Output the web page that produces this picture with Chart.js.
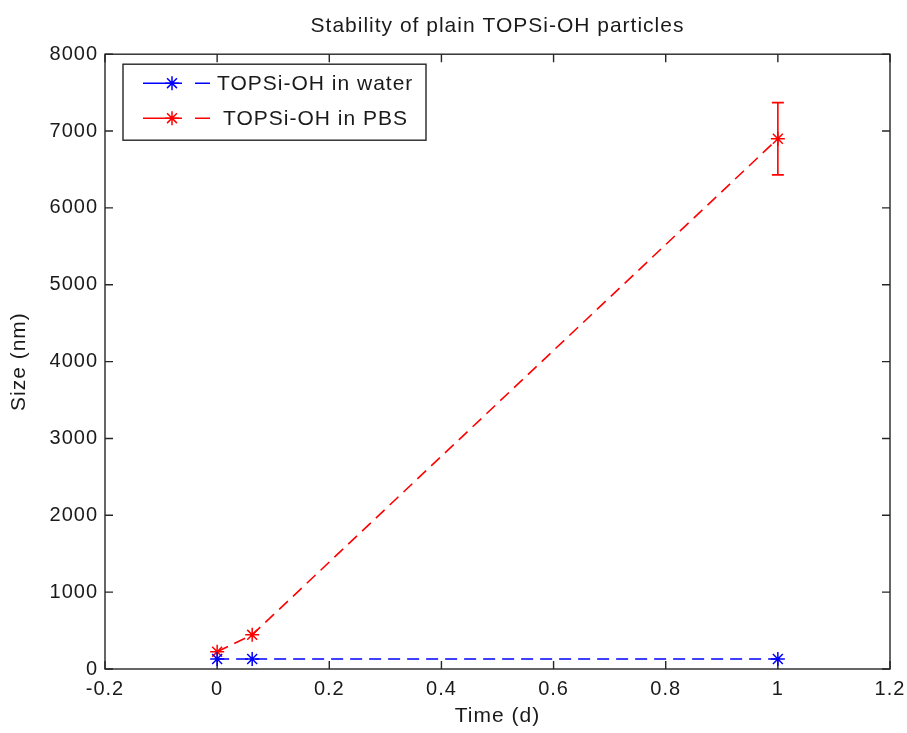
<!DOCTYPE html>
<html><head><meta charset="utf-8">
<script src="https://cdn.jsdelivr.net/npm/chart.js@4/dist/chart.umd.min.js"></script>
<style>html,body{margin:0;padding:0;background:#fff;overflow:hidden;} #wrap{width:907px;height:733px;}</style>
</head><body><div id="wrap"><canvas id="c" width="907" height="733"></canvas></div>
<script>
const chartTitle = 'Stability of plain TOPSi-OH particles';
const xAxisTitle = 'Time (d)';
const yAxisTitle = 'Size (nm)';
const seriesNames = ['TOPSi-OH in water', 'TOPSi-OH in PBS'];
const timeDays = [0, 0.0625, 1];
const waterSize = [130, 130, 130];
const pbsSize = [225, 445, 6900];
const pbsError = [0, 0, 470];
const xTicks = [-0.2, 0, 0.2, 0.4, 0.6, 0.8, 1, 1.2];
const xTickLabels = ['-0.2', '0', '0.2', '0.4', '0.6', '0.8', '1', '1.2'];
const yTicks = [0, 1000, 2000, 3000, 4000, 5000, 6000, 7000, 8000];
const yTickLabels = ['0', '1000', '2000', '3000', '4000', '5000', '6000', '7000', '8000'];

const FONT = '"Liberation Sans", Arial, Helvetica, sans-serif';
const TEXT = '#1a1a1a';
const AXIS = '#262626';
const BLUE = '#0000ff';
const RED = '#ff0000';

function setSpacing(chart) {
  if ('letterSpacing' in chart.ctx) chart.ctx.letterSpacing = '1px';
}

const spacingPlugin = {
  id: 'spacing',
  beforeLayout(chart) { setSpacing(chart); },
  beforeDraw(chart) { setSpacing(chart); }
};

const axesBoxPlugin = {
  id: 'axesBox',
  beforeDatasetsDraw(chart) {
    const {ctx, chartArea: a, scales: {x, y}} = chart;
    ctx.save();
    ctx.strokeStyle = AXIS;
    ctx.lineWidth = 1.4;
    ctx.setLineDash([]);
    ctx.strokeRect(a.left, a.top, a.right - a.left, a.bottom - a.top);
    const L = 8;
    ctx.beginPath();
    xTicks.forEach(v => {
      const px = x.getPixelForValue(v);
      ctx.moveTo(px, a.bottom); ctx.lineTo(px, a.bottom - L);
      ctx.moveTo(px, a.top); ctx.lineTo(px, a.top + L);
    });
    yTicks.forEach(v => {
      const py = y.getPixelForValue(v);
      ctx.moveTo(a.left, py); ctx.lineTo(a.left + L, py);
      ctx.moveTo(a.right, py); ctx.lineTo(a.right - L, py);
    });
    ctx.stroke();
    ctx.restore();
  }
};

const errorBarPlugin = {
  id: 'errorBars',
  afterDatasetsDraw(chart) {
    const {ctx, scales: {x, y}} = chart;
    ctx.save();
    ctx.strokeStyle = RED;
    ctx.lineWidth = 1.6;
    ctx.setLineDash([]);
    ctx.beginPath();
    timeDays.forEach((t, i) => {
      const e = pbsError[i];
      if (!e) return;
      const px = x.getPixelForValue(t);
      const yTop = y.getPixelForValue(pbsSize[i] + e);
      const yBot = y.getPixelForValue(pbsSize[i] - e);
      ctx.moveTo(px, yTop); ctx.lineTo(px, yBot);
      ctx.moveTo(px - 6, yTop); ctx.lineTo(px + 6, yTop);
      ctx.moveTo(px - 6, yBot); ctx.lineTo(px + 6, yBot);
    });
    ctx.stroke();
    ctx.restore();
  }
};

function drawStar(ctx, cx, cy, r, color) {
  ctx.save();
  ctx.strokeStyle = color;
  ctx.lineWidth = 1.5;
  ctx.setLineDash([]);
  ctx.beginPath();
  ctx.moveTo(cx - r, cy); ctx.lineTo(cx + r, cy);
  ctx.moveTo(cx, cy - r); ctx.lineTo(cx, cy + r);
  const d = r * Math.SQRT1_2;
  ctx.moveTo(cx - d, cy - d); ctx.lineTo(cx + d, cy + d);
  ctx.moveTo(cx - d, cy + d); ctx.lineTo(cx + d, cy - d);
  ctx.stroke();
  ctx.restore();
}

const legendPlugin = {
  id: 'boxLegend',
  afterDraw(chart) {
    const {ctx, chartArea: a} = chart;
    const bx = a.left + 18, by = a.top + 10, bw = 303, bh = 76;
    ctx.save();
    setSpacing(chart);
    ctx.fillStyle = '#ffffff';
    ctx.fillRect(bx, by, bw, bh);
    ctx.strokeStyle = AXIS;
    ctx.lineWidth = 1.4;
    ctx.strokeRect(bx, by, bw, bh);
    const rows = [
      {name: seriesNames[0], color: BLUE, y: by + 19, tx: bx + 94},
      {name: seriesNames[1], color: RED, y: by + 54, tx: bx + 100}
    ];
    rows.forEach(r => {
      ctx.strokeStyle = r.color;
      ctx.lineWidth = 1.6;
      ctx.beginPath();
      ctx.moveTo(bx + 20, r.y); ctx.lineTo(bx + 59, r.y);
      ctx.moveTo(bx + 72, r.y); ctx.lineTo(bx + 87, r.y);
      ctx.stroke();
      drawStar(ctx, bx + 49, r.y, 7, r.color);
      ctx.fillStyle = TEXT;
      ctx.font = '21px ' + FONT;
      ctx.textBaseline = 'middle';
      ctx.textAlign = 'left';
      ctx.fillText(r.name, r.tx, r.y + 1);
    });
    ctx.restore();
  }
};

const ctx = document.getElementById('c').getContext('2d');
new Chart(ctx, {
  type: 'line',
  data: {
    datasets: [
      {
        label: seriesNames[0],
        data: timeDays.map((t, i) => ({x: t, y: waterSize[i]})),
        borderColor: BLUE, backgroundColor: BLUE,
        borderWidth: 1.6, borderDash: [12, 7],
        pointStyle: 'star', pointRadius: 7, pointBorderWidth: 1.5,
        pointBorderColor: BLUE, pointBackgroundColor: BLUE,
        tension: 0, fill: false
      },
      {
        label: seriesNames[1],
        data: timeDays.map((t, i) => ({x: t, y: pbsSize[i]})),
        borderColor: RED, backgroundColor: RED,
        borderWidth: 1.6, borderDash: [12, 7],
        pointStyle: 'star', pointRadius: 7, pointBorderWidth: 1.5,
        pointBorderColor: RED, pointBackgroundColor: RED,
        tension: 0, fill: false
      }
    ]
  },
  options: {
    responsive: false,
    animation: false,
    devicePixelRatio: 1,
    layout: {padding: {left: 0, right: 17, top: 0, bottom: 0}},
    plugins: {
      legend: {display: false},
      tooltip: {enabled: false},
      title: {
        display: true, text: chartTitle, color: TEXT, fullSize: false,
        font: {family: FONT, size: 21, weight: 'normal'},
        padding: {top: 14, bottom: 15}
      }
    },
    scales: {
      x: {
        type: 'linear', min: -0.2, max: 1.2,
        afterBuildTicks: s => { s.ticks = xTicks.map(v => ({value: v})); },
        afterFit: s => { s.height = 64; s.paddingRight = 0; s.paddingLeft = 0; },
        grid: {display: false, drawTicks: false},
        border: {display: false},
        ticks: {
          color: TEXT, padding: 8, maxRotation: 0, autoSkip: false,
          font: {family: FONT, size: 20},
          callback: (v) => xTickLabels[xTicks.findIndex(t => Math.abs(t - v) < 1e-9)]
        },
        title: {
          display: true, text: xAxisTitle, color: TEXT,
          font: {family: FONT, size: 21, weight: 'normal'},
          padding: {top: 4, bottom: 4}
        }
      },
      y: {
        type: 'linear', min: 0, max: 8000,
        afterBuildTicks: s => { s.ticks = yTicks.map(v => ({value: v})); },
        afterFit: s => { s.width = 105; },
        grid: {display: false, drawTicks: false},
        border: {display: false},
        ticks: {
          color: TEXT, padding: 7, autoSkip: false,
          font: {family: FONT, size: 20},
          callback: (v) => yTickLabels[yTicks.indexOf(v)]
        },
        title: {
          display: true, text: yAxisTitle, color: TEXT,
          font: {family: FONT, size: 21, weight: 'normal'},
          padding: {top: 7, bottom: 4}
        }
      }
    }
  },
  plugins: [spacingPlugin, axesBoxPlugin, errorBarPlugin, legendPlugin]
});
</script>
</body></html>
